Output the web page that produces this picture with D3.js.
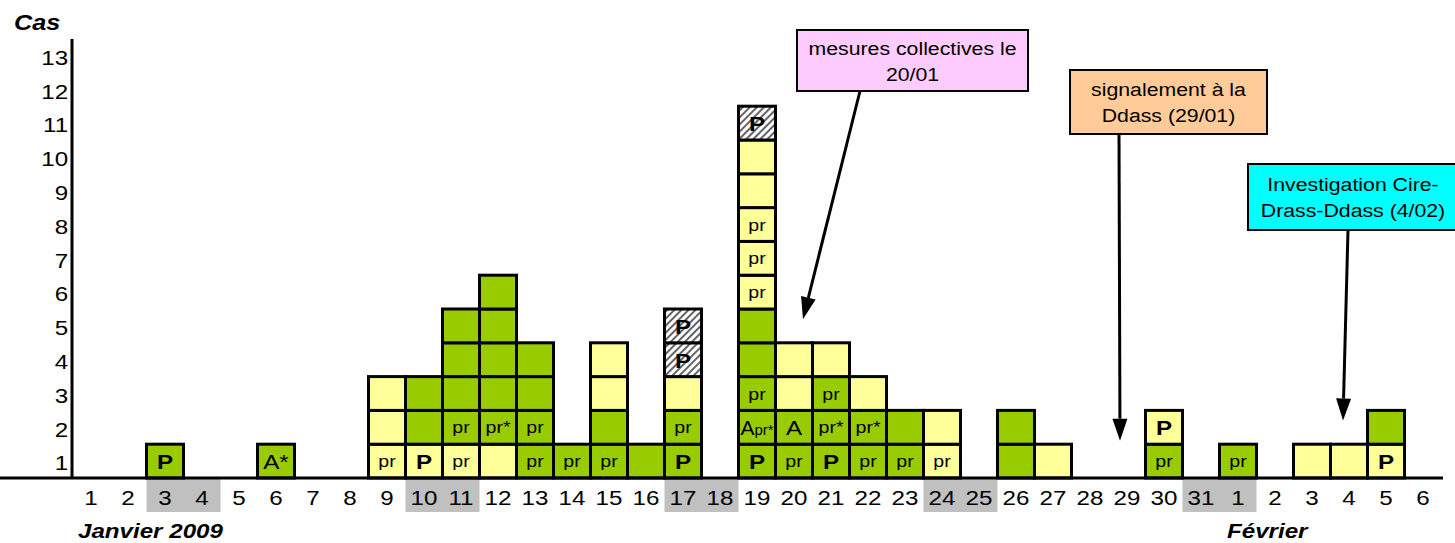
<html>
<head>
<script src="https://d3js.org/d3.v7.min.js"></script>
<style>
body { margin: 0; background: #fff; }
svg { display: block; font-family: "Liberation Sans", Arial, sans-serif; }
</style>
</head>
<body>
<svg></svg>
<script>

var width = 1455;
var height = 543;

// Jours : janvier 1..31 puis février 1..6
var dayLabels = d3.range(1, 32).concat(d3.range(1, 7)).map(String);
// premier jour de chaque week-end grisé (index dans dayLabels)
var weekendStart = [2, 9, 16, 23, 30];

// couleur des cas, du bas vers le haut : G = vert, Y = jaune, H = hachuré
var cellColors = ["", "", "G", "", "", "G", "", "", "YYY", "YGG", "YGGGG", "YGGGGG",
	"GGGG", "G", "GGYY", "G", "GGYHH", "", "GGGGGYYYYYH", "GGYY", "GGGY", "GGY", "GG", "YY",
	"", "GG", "Y", "", "", "GY", "", "G", "", "Y", "Y", "YG", ""];

// étiquettes des cas, du bas vers le haut
var cellLabels = [[], [], ["P"], [], [], ["A*"], [], [], ["pr", "", ""], ["P", "", ""],
	["pr", "pr", "", "", ""], ["", "pr*", "", "", "", ""], ["pr", "pr", "", ""], ["pr"],
	["pr", "", "", ""], [""], ["P", "pr", "", "P", "P"], [],
	["P", "Apr*", "pr", "", "", "pr", "pr", "pr", "", "", "P"], ["pr", "A", "", ""],
	["P", "pr*", "pr", ""], ["pr", "pr*", ""], ["pr", ""], ["pr", ""], [], ["", ""], [""],
	[], [], ["pr", "P"], [], ["pr"], [], [""], [""], ["P", ""], []];

var yTicks = d3.range(1, 14);

// annotations : texte, jour visé (index), hauteur visée (cas)
var noteText = [["mesures collectives le", "20/01"], ["signalement à la", "Ddass (29/01)"],
	["Investigation Cire-", "Drass-Ddass (4/02)"]];
var noteDay = [19, 28, 34];
var noteLevel = [4.7, 1.1, 1.7];

var fills = { G: "#99cc00", Y: "#ffff99", H: "url(#hatch)" };
var noteFills = ["#ffccff", "#ffcc99", "#00ffff"];
var sx = 1.15; // les textes de l'original sont étirés en largeur

var svg = d3.select("svg").attr("width", width).attr("height", height);

var defs = svg.append("defs");
var pat = defs.append("pattern").attr("id", "hatch")
	.attr("width", 5).attr("height", 5)
	.attr("patternUnits", "userSpaceOnUse")
	.attr("patternTransform", "rotate(45)");
pat.append("rect").attr("width", 5).attr("height", 5).attr("fill", "#fff");
pat.append("line").attr("x1", 1).attr("y1", 0).attr("x2", 1).attr("y2", 5)
	.attr("stroke", "#222").attr("stroke-width", 1.4);

var x = d3.scaleBand()
	.domain(d3.range(dayLabels.length))
	.range([72.5, 72.5 + 37 * dayLabels.length]);
var y = d3.scaleLinear()
	.domain([0, 13])
	.range([478, 478 - 13 * 33.8]);

// week-ends grisés
svg.selectAll("rect.we").data(weekendStart).enter().append("rect")
	.attr("class", "we")
	.attr("x", function(d) { return x(d); })
	.attr("y", y(0) + 1)
	.attr("width", x.bandwidth() * 2)
	.attr("height", 33)
	.attr("fill", "#c0c0c0");

// cas
var cells = [];
cellColors.forEach(function(col, i) {
	for (var k = 0; k < col.length; k++) {
		cells.push({ day: i, level: k, color: col[k], label: cellLabels[i][k] || "" });
	}
});

svg.selectAll("rect.cell").data(cells).enter().append("rect")
	.attr("class", "cell")
	.attr("x", function(d) { return x(d.day); })
	.attr("y", function(d) { return y(d.level + 1); })
	.attr("width", x.bandwidth())
	.attr("height", function(d) { return y(d.level) - y(d.level + 1); })
	.attr("fill", function(d) { return fills[d.color]; })
	.attr("stroke", "#000")
	.attr("stroke-width", 3);

var labs = svg.selectAll("text.lab").data(cells.filter(function(d) { return d.label; }))
	.enter().append("text")
	.attr("class", "lab")
	.attr("text-anchor", "middle")
	.attr("transform", function(d) {
		var cx = x(d.day) + x.bandwidth() / 2;
		var cy = (y(d.level) + y(d.level + 1)) / 2;
		var big = d.label[0] == "P" || d.label[0] == "A";
		return "translate(" + cx + "," + (cy + (big ? 8 : 6)) + ") scale(" + sx + ",1)";
	})
	.style("font-size", function(d) { return d.label[0] == "p" ? "17px" : "21px"; })
	.style("font-weight", function(d) { return d.label == "P" ? "bold" : "normal"; })
	.text(function(d) { return d.label == "Apr*" ? null : d.label; });

labs.filter(function(d) { return d.label == "Apr*"; })
	.attr("transform", function(d) {
		var cx = x(d.day) + x.bandwidth() / 2;
		var cy = (y(d.level) + y(d.level + 1)) / 2;
		return "translate(" + cx + "," + (cy + 8) + ") scale(1,1)";
	})
	.each(function() {
		var t = d3.select(this);
		t.append("tspan").style("font-size", "21px").text("A");
		t.append("tspan").style("font-size", "15px").text("pr*");
	});

// axes
var yAxis = d3.axisLeft(y)
	.tickValues(yTicks.map(function(v) { return v - 0.5; }))
	.tickFormat(function(v) { return String(v + 0.5); })
	.tickSize(0).tickSizeOuter(0).tickPadding(3);
var gy = svg.append("g").attr("transform", "translate(71.5,0)").call(yAxis);
gy.select(".domain").attr("stroke", "#000").attr("stroke-width", 3);
gy.selectAll("text")
	.attr("dy", "0.42em")
	.attr("transform", "scale(" + sx + ",1)")
	.style("font-size", "21px")
	.attr("fill", "#000");

var xAxis = d3.axisBottom(x)
	.tickFormat(function(i) { return dayLabels[i]; })
	.tickSize(0).tickSizeOuter(0).tickPadding(12);
var gx = svg.append("g").attr("transform", "translate(0," + y(0) + ")").call(xAxis);
gx.select(".domain").attr("stroke", "#000").attr("stroke-width", 3)
	.attr("d", "M-2,0H1443");
gx.selectAll("text")
	.attr("transform", "scale(" + sx + ",1)")
	.style("font-size", "21px")
	.attr("fill", "#000");
gx.selectAll(".tick").attr("transform", function(i) {
	return "translate(" + (x(i) + x.bandwidth() / 2) + ",0)";
});

// titres
svg.append("text").attr("transform", "translate(14,30) scale(" + sx + ",1)")
	.style("font-size", "22px").style("font-weight", "bold").style("font-style", "italic")
	.text("Cas");
svg.append("text").attr("transform", "translate(78,538) scale(" + sx + ",1)")
	.style("font-size", "21px").style("font-weight", "bold").style("font-style", "italic")
	.text("Janvier 2009");
svg.append("text").attr("transform", "translate(1227,538) scale(" + sx + ",1)")
	.style("font-size", "21px").style("font-weight", "bold").style("font-style", "italic")
	.text("Février");

// annotations (boîte, trait, flèche)
var boxes = [
	{ x0: 797, y0: 30, w: 231, h: 61, lx: 860 },
	{ x0: 1070, y0: 70, w: 197, h: 64, lx: 1119 },
	{ x0: 1248, y0: 164, w: 222, h: 66, lx: 1348 }
];
var tipDx = [9, -7, -6];

boxes.forEach(function(b, i) {
	var tx = x(noteDay[i]) + x.bandwidth() / 2 + tipDx[i];
	var ty = y(noteLevel[i]);
	var x1 = b.lx, y1 = b.y0 + b.h;
	var ang = Math.atan2(ty - y1, tx - x1);
	var len = 22, half = 7.5;
	var bx = tx - len * Math.cos(ang), by = ty - len * Math.sin(ang);

	svg.append("line")
		.attr("x1", x1).attr("y1", y1).attr("x2", bx).attr("y2", by)
		.attr("stroke", "#000").attr("stroke-width", 3);
	svg.append("path")
		.attr("d", "M" + tx + "," + ty +
			"L" + (bx + half * Math.sin(ang)) + "," + (by - half * Math.cos(ang)) +
			"L" + (bx - half * Math.sin(ang)) + "," + (by + half * Math.cos(ang)) + "Z")
		.attr("fill", "#000");

	svg.append("rect")
		.attr("x", b.x0).attr("y", b.y0).attr("width", b.w).attr("height", b.h)
		.attr("fill", noteFills[i]).attr("stroke", "#000").attr("stroke-width", 2);
	noteText[i].forEach(function(line, j) {
		svg.append("text")
			.attr("text-anchor", "middle")
			.attr("transform", "translate(" + (b.x0 + b.w / 2 - (i == 2 ? 6 : 0)) + "," +
				(b.y0 + b.h / 2 - 6 + j * 26) + ") scale(1.12,1)")
			.style("font-size", "19px")
			.text(line);
	});
});

</script>
</body>
</html>
